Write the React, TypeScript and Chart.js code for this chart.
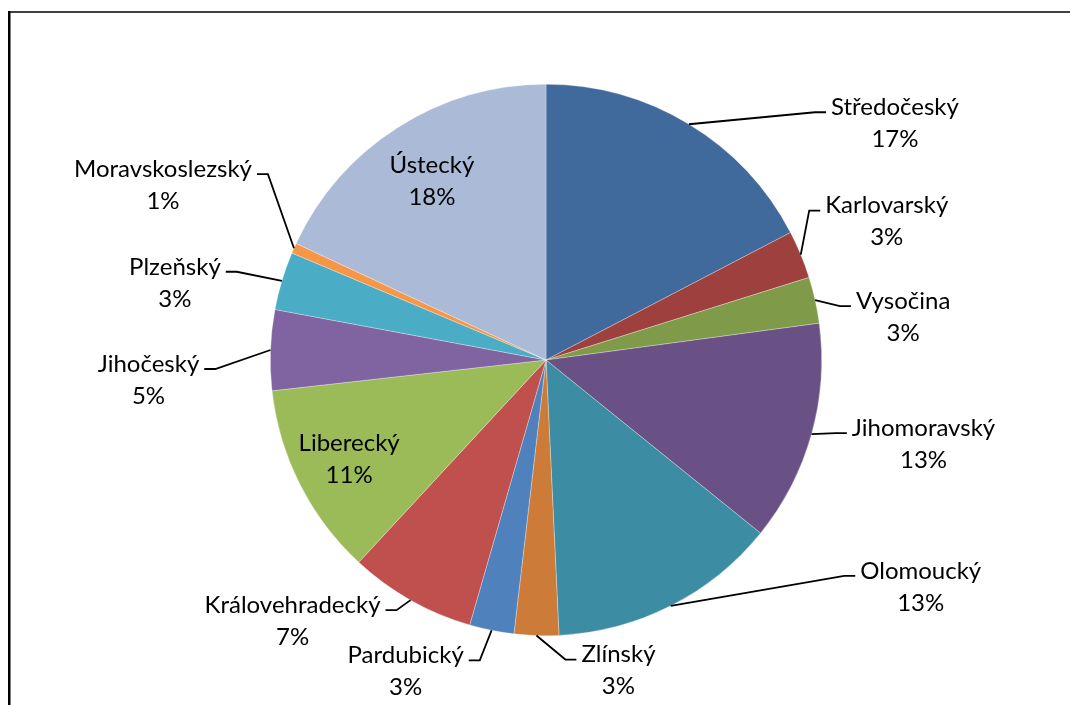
import React, { useEffect, useRef } from "react";
import { Chart, registerables } from "chart.js";

Chart.register(...registerables);

const regions = [
  "Středočeský",
  "Karlovarský",
  "Vysočina",
  "Jihomoravský",
  "Olomoucký",
  "Zlínský",
  "Pardubický",
  "Královehradecký",
  "Liberecký",
  "Jihočeský",
  "Plzeňský",
  "Moravskoslezský",
  "Ústecký",
];

const shares = [17.3, 2.8, 2.7, 12.9, 13.4, 2.6, 2.6, 7.4, 11.3, 4.7, 3.4, 0.6, 18.0];

const colors = [
  "#40699C",
  "#9E413E",
  "#7F9A48",
  "#695185",
  "#3C8DA3",
  "#CC7B38",
  "#4F81BD",
  "#C0504D",
  "#9BBB59",
  "#8064A2",
  "#4BACC6",
  "#F79646",
  "#AABAD7",
];

// label layout: [inside?, dx, dy] offsets from slice outer-edge midpoint, or radius factor for inside
const labelLayout: Array<[boolean, number, number]> = [
  [false, 206, -1],
  [false, 86, -33],
  [false, 88, 17],
  [false, 112, 10],
  [false, 250, -19],
  [false, 82, 35],
  [false, -86, 41],
  [false, -118, 21],
  [true, 0.8, 0],
  [false, -122, 30],
  [false, -107, 2],
  [false, -131, -63],
  [true, 0.77, 0],
];

const FONT = '24px Lato, "Noto Sans", sans-serif';

const labelPlugin = {
  id: "pieLabels",
  afterDatasetsDraw(chart: any) {
    const ctx = chart.ctx;
    const meta = chart.getDatasetMeta(0);
    const data = chart.data.datasets[0].data as number[];
    const total = data.reduce((a, b) => a + b, 0);
    ctx.save();
    ctx.font = FONT;
    ctx.fillStyle = "#000";
    ctx.textAlign = "center";
    ctx.textBaseline = "middle";
    meta.data.forEach((arc: any, i: number) => {
      const { x, y, startAngle, endAngle, outerRadius } = arc.getProps(
        ["x", "y", "startAngle", "endAngle", "outerRadius"],
        true
      );
      const mid = (startAngle + endAngle) / 2;
      const ex = x + outerRadius * Math.cos(mid);
      const ey = y + outerRadius * Math.sin(mid);
      const [inside, a, b] = labelLayout[i];
      let cx: number, cy: number;
      if (inside) {
        cx = x + outerRadius * a * Math.cos(mid);
        cy = y + outerRadius * a * Math.sin(mid);
      } else {
        cx = ex + a;
        cy = ey + b;
      }
      const line1 = chart.data.labels[i] as string;
      const line2 = Math.round((data[i] / total) * 100) + "%";
      const w = Math.max(ctx.measureText(line1).width, ctx.measureText(line2).width);
      if (!inside) {
        const ly = cy - 11;
        let sideX: number, elbowX: number;
        if (cx > ex) {
          sideX = cx - w / 2 - 5;
          elbowX = sideX - 11;
        } else {
          sideX = cx + w / 2 + 5;
          elbowX = sideX + 11;
        }
        ctx.beginPath();
        ctx.strokeStyle = "#000";
        ctx.lineWidth = 1.8;
        ctx.moveTo(ex, ey);
        ctx.lineTo(elbowX, ly);
        ctx.lineTo(sideX, ly);
        ctx.stroke();
      }
      ctx.fillText(line1, cx, cy - 16);
      ctx.fillText(line2, cx, cy + 16);
    });
    ctx.restore();
  },
};

const framePlugin = {
  id: "frame",
  afterDraw(chart: any) {
    const ctx = chart.ctx;
    ctx.save();
    ctx.strokeStyle = "#000";
    ctx.lineWidth = 2.5;
    ctx.beginPath();
    ctx.moveTo(9.25, 11);
    ctx.lineTo(9.25, 705);
    ctx.stroke();
    ctx.lineWidth = 1.6;
    ctx.beginPath();
    ctx.moveTo(8, 12);
    ctx.lineTo(1070, 12);
    ctx.stroke();
    ctx.restore();
  },
};

export default function App() {
  const ref = useRef<HTMLCanvasElement>(null);
  useEffect(() => {
    document.body.style.margin = "0";
    const chart = new Chart(ref.current!, {
      type: "pie",
      data: {
        labels: regions,
        datasets: [
          {
            data: shares,
            backgroundColor: colors,
            borderColor: "rgba(255,255,255,0.5)",
            borderWidth: 0.6,
          },
        ],
      },
      options: {
        animation: false,
        responsive: false,
        devicePixelRatio: 1,
        layout: { padding: { top: 84, bottom: 69, left: 270, right: 248 } },
        plugins: {
          legend: { display: false },
          tooltip: { enabled: false },
        },
      },
      plugins: [labelPlugin, framePlugin],
    });
    return () => chart.destroy();
  }, []);
  return (
    <div style={{ width: 1070, height: 705, background: "#fff" }}>
      <canvas ref={ref} width={1070} height={705} style={{ display: "block" }} />
    </div>
  );
}
